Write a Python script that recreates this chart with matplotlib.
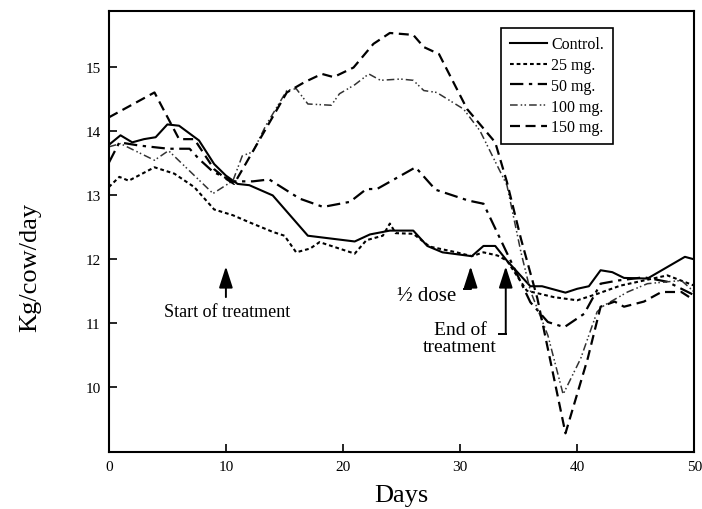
import matplotlib
matplotlib.use("Agg")
import matplotlib.pyplot as plt

plt.rcParams['font.family'] = ['Liberation Serif', 'DejaVu Serif']

# values (days, kg/cow/day)
control_days = [0, 1, 2, 3, 4, 5, 6, 7.7, 9, 10, 11, 12, 14, 17, 21, 22.3, 24, 26, 27.2, 28.5,
                31, 32, 33, 34, 36, 37, 39, 40, 41, 42, 43, 44, 46, 49.2, 50]
control_vals = [13.78, 13.93, 13.82, 13.87, 13.9, 14.1, 14.08, 13.85, 13.48, 13.3, 13.17, 13.15,
                12.99, 12.36, 12.27, 12.38, 12.44, 12.44, 12.2, 12.1, 12.04, 12.2, 12.2, 11.97,
                11.57, 11.57, 11.47, 11.53, 11.57, 11.82, 11.79, 11.7, 11.69, 12.03, 11.99]

mg25_days = [0, 0.9, 1.7, 3.9, 5.6, 7.3, 9, 10.6, 12, 14, 15, 16, 17.2, 18, 21, 22, 23.4, 24, 24.5,
             26, 27.4, 29.7, 31, 32, 33.2, 34, 35.7, 38, 40, 41.7, 43.7, 45.7, 47.7, 50]
mg25_vals = [13.12, 13.28, 13.22, 13.43, 13.33, 13.12, 12.77, 12.68, 12.57, 12.42, 12.36, 12.1,
             12.16, 12.26, 12.08, 12.29, 12.36, 12.55, 12.4, 12.39, 12.19, 12.1, 12.04, 12.1,
             12.05, 11.97, 11.5, 11.4, 11.35, 11.45, 11.58, 11.66, 11.74, 11.58]

mg50_days = [0, 0.9, 2.6, 5.1, 6.9, 7.7, 8.9, 10.6, 12.3, 13.7, 16.3, 18.3, 20.6, 22, 22.9, 26.2,
             27.9, 30.7, 32, 36, 37.5, 38.9, 40.6, 42, 43.5, 45.7, 47.7, 50]
mg50_vals = [13.5, 13.82, 13.77, 13.72, 13.72, 13.56, 13.36, 13.21, 13.21, 13.24, 12.94, 12.81,
             12.89, 13.09, 13.09, 13.43, 13.08, 12.91, 12.86, 11.32, 11.01, 10.93, 11.14, 11.61,
             11.66, 11.71, 11.64, 11.43]

mg100_days = [0, 1, 3.9, 5.1, 8.9, 10.6, 11.4, 12.3, 13.4, 15.2, 16, 17, 19, 19.7, 21, 22.2, 23.2,
              24.9, 26, 26.9, 28, 30.3, 31.7, 34, 35.2, 36, 37.5, 38.8, 40.3, 41.7, 42.3, 44.3,
              46, 48.9, 50]
mg100_vals = [13.75, 13.8, 13.54, 13.69, 13.02, 13.22, 13.61, 13.67, 14.08, 14.63, 14.66, 14.42,
              14.4, 14.58, 14.72, 14.89, 14.79, 14.81, 14.79, 14.63, 14.6, 14.34, 14.0, 13.15,
              12.1, 11.5, 10.8, 9.88, 10.44, 11.17, 11.27, 11.48, 11.61, 11.66, 11.48]

mg150_days = [0, 3.9, 6, 7.3, 9, 10, 10.7, 15.2, 16.7, 18.2, 19.2, 20.9, 22.6, 24, 26, 26.9, 28.2,
              30.6, 33, 34, 35.2, 36.6, 39, 40.9, 42, 43.2, 44, 45.7, 47.2, 48.9, 50]
mg150_vals = [14.21, 14.6, 13.87, 13.87, 13.4, 13.25, 13.17, 14.6, 14.76, 14.89, 14.84, 14.99,
              15.36, 15.53, 15.5, 15.31, 15.2, 14.34, 13.82, 13.2, 12.31, 11.38, 9.27, 10.44,
              11.25, 11.33, 11.25, 11.33, 11.48, 11.48, 11.35]

fig = plt.figure(figsize=(7.02, 5.10), dpi=100)
ax = fig.add_axes([0.155, 0.112, 0.834, 0.864])

ax.plot(control_days, control_vals, color="black", lw=1.5, ls="-", label="Control.")
ax.plot(mg25_days, mg25_vals, color="black", lw=1.5, ls=(0, (1.8, 1.4)), label="25 mg.")
ax.plot(mg50_days, mg50_vals, color="black", lw=1.6, ls=(0, (6, 2.5, 1.5, 2.5)), label="50 mg.")
ax.plot(mg100_days, mg100_vals, color="#333333", lw=1.1, ls=(0, (5, 2, 1, 1.5, 1, 2)), label="100 mg.")
ax.plot(mg150_days, mg150_vals, color="black", lw=1.6, ls=(0, (4.5, 2.5)), label="150 mg.")

ax.set_xlim(0, 50)
ax.set_ylim(8.98, 15.87)
ax.set_xticks([0, 10, 20, 30, 40, 50])
ax.set_yticks([10, 11, 12, 13, 14, 15])
ax.tick_params(direction="in", length=6, width=1.2, labelsize=11, pad=6)
for s in ax.spines.values():
    s.set_linewidth(1.5)

ax.set_xlabel("Days", fontsize=19, labelpad=8)
ax.set_ylabel("Kg/cow/day", fontsize=19)
ax.yaxis.set_label_coords(-0.115, 0.42)

leg = ax.legend(loc="upper left", bbox_to_anchor=(0.67, 0.963), fontsize=11.5,
                handlelength=2.3, handletextpad=0.3, borderpad=0.55, labelspacing=0.3,
                borderaxespad=0, fancybox=False, framealpha=1, edgecolor="black")
leg.get_frame().set_linewidth(1.2)

arrow = dict(arrowstyle="-|>,head_width=0.42,head_length=1.3", color="black", lw=1.4,
             shrinkA=0, shrinkB=0)

# start of treatment
ax.annotate("", xy=(10, 11.88), xytext=(10, 11.4), arrowprops=arrow)
ax.text(10.1, 11.18, "Start of treatment", fontsize=13, ha="center", va="center")

# half dose
ax.annotate("", xy=(30.9, 11.88), xytext=(30.9, 11.53), arrowprops=arrow)
ax.plot([30.9, 30.9, 30.3], [11.54, 11.53, 11.53], color="black", lw=1.4)
ax.text(29.7, 11.42, "½ dose", fontsize=15, ha="right", va="center")

# end of treatment
ax.annotate("", xy=(33.9, 11.88), xytext=(33.9, 10.83), arrowprops=arrow)
ax.plot([33.9, 33.3], [10.83, 10.83], color="black", lw=1.4)
ax.text(30.0, 10.76, "End of\ntreatment", fontsize=14, ha="center", va="center",
        linespacing=1.05)

fig.savefig("out.png", dpi=100)
